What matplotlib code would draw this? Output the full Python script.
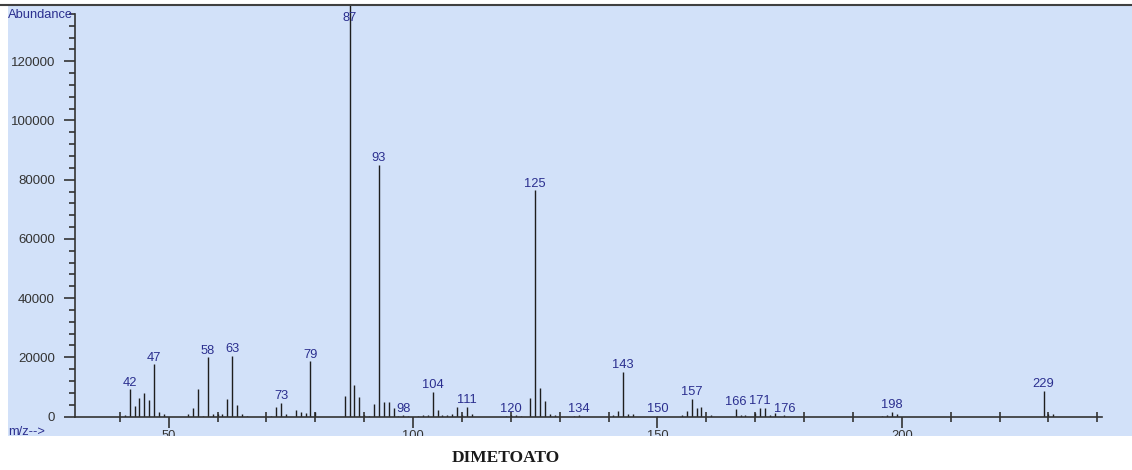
import matplotlib
matplotlib.use('Agg')
import matplotlib.pyplot as plt
from matplotlib.patches import Rectangle
from matplotlib.lines import Line2D
from matplotlib.ticker import FixedLocator, MultipleLocator

plt.rcParams['font.family'] = ['Liberation Sans', 'DejaVu Sans']

# espectro de massas - dimetoato
mz = [41, 42, 43, 44, 45, 46, 47, 48, 49,
      54, 55, 56, 57, 58, 59, 60, 61, 62, 63, 64, 65, 66,
      71, 72, 73, 74, 76, 77, 78, 79, 80,
      86, 87, 88, 89, 90, 91, 92, 93, 94, 95, 96, 97, 98, 99,
      101, 102, 103, 104, 105, 106, 107, 108, 109, 110, 111, 112,
      119, 120, 121, 122, 124, 125, 126, 127, 128, 129,
      133, 134, 141, 142, 143, 144, 145, 150,
      155, 156, 157, 158, 159, 161,
      166, 167, 168, 170, 171, 172, 173, 174, 176,
      196, 197, 198, 199, 229, 230, 231]
abundancia = [500, 9200, 3500, 6200, 7800, 5600, 17600, 1600, 800,
              800, 3000, 9200, 300, 20000, 800, 1000, 800, 5900, 20500, 3800, 800, 300,
              300, 3300, 4700, 800, 2300, 1500, 1200, 18600, 1500,
              6900, 139000, 10600, 6600, 500, 300, 4100, 85000, 4900, 4900, 2900, 300, 400, 300,
              300, 400, 500, 8400, 2200, 600, 600, 1000, 3300, 500, 3300, 800,
              300, 500, 400, 300, 6400, 76500, 9500, 5200, 800, 500,
              200, 400, 600, 2000, 15100, 1000, 900, 300,
              500, 2000, 6000, 3000, 3300, 500,
              2600, 600, 400, 1200, 3000, 2800, 500, 1200, 400,
              300, 400, 1600, 800, 8700, 1000, 800]
picos_rotulados = [42, 47, 58, 63, 73, 79, 87, 93, 98, 104, 111, 120, 125,
                   134, 143, 150, 157, 166, 171, 176, 198, 229]

W, H = 1132, 470
azul_fundo = '#d2e1f9'
azul_texto = '#2b2f8f'
cinza = '#333333'

fig = plt.figure(figsize=(W / 100, H / 100), dpi=100)
fig.patch.set_facecolor('white')

# painel azul e linha superior
fig.add_artist(Rectangle((8 / W, 34 / H), 1 - 8 / W, (436 - 5) / H,
                         transform=fig.transFigure, facecolor=azul_fundo,
                         edgecolor='none', zorder=-1))
fig.add_artist(Line2D([0, 1], [(H - 5) / H] * 2, transform=fig.transFigure,
                      color='#404040', lw=1.5, zorder=12))

ax = fig.add_axes([75 / W, (H - 416.5) / H, (1102 - 75) / W, (416.5 - 5) / H])
ax.patch.set_visible(False)

ax.vlines(mz, 0, abundancia, colors='#1e1e1e', lw=1.0)

for m in picos_rotulados:
    a = abundancia[mz.index(m)]
    if m == 87:
        ax.annotate(str(m), (m, a), xytext=(0, -7), textcoords='offset pixels',
                    ha='center', va='top', color=azul_texto, fontsize=9.3)
    else:
        ax.annotate(str(m), (m, a), xytext=(0, 3.5), textcoords='offset pixels',
                    ha='center', va='baseline', color=azul_texto, fontsize=9.3)

ax.set_xlim(30.82, 240.97)
ax.set_ylim(0, 139000)

for s in ['top', 'right']:
    ax.spines[s].set_visible(False)
for s in ['left', 'bottom']:
    ax.spines[s].set_color(cinza)
    ax.spines[s].set_linewidth(1.2)
ax.spines['left'].set_bounds(0, 136000)

ax.xaxis.set_major_locator(FixedLocator([50, 100, 150, 200]))
ax.xaxis.set_minor_locator(MultipleLocator(10))
ax.yaxis.set_major_locator(FixedLocator(range(0, 120001, 20000)))
ax.yaxis.set_minor_locator(MultipleLocator(4000))

ax.tick_params(axis='x', which='major', direction='out', length=8, width=1.2,
               pad=2, labelsize=9.3, color=cinza, labelcolor=cinza)
ax.tick_params(axis='x', which='minor', direction='inout', length=7, width=1.2,
               color=cinza)
ax.tick_params(axis='y', which='major', direction='out', length=8, width=1.2,
               pad=6.5, labelsize=9.5, color=cinza, labelcolor=cinza)
ax.tick_params(axis='y', which='minor', direction='out', length=4, width=1.2,
               color=cinza)

fig.text(8 / W, (H - 18.5) / H, 'Abundance', ha='left', va='baseline',
         color=azul_texto, fontsize=9.3)
fig.text(8 / W, (H - 426) / H, 'm/z-->', ha='left', va='top',
         color=azul_texto, fontsize=9.3)

# faixa branca inferior com o nome do composto
fig.add_artist(Rectangle((0, 0), 1, 34 / H, transform=fig.transFigure,
                         facecolor='white', edgecolor='none', zorder=10))
fig.text(506 / W, (H - 457.5) / H, 'DIMETOATO', ha='center', va='center',
         family='Liberation Serif', fontsize=12.5, weight='bold',
         color='#1a1a1a', zorder=11)

fig.savefig('out.png', dpi=100)
